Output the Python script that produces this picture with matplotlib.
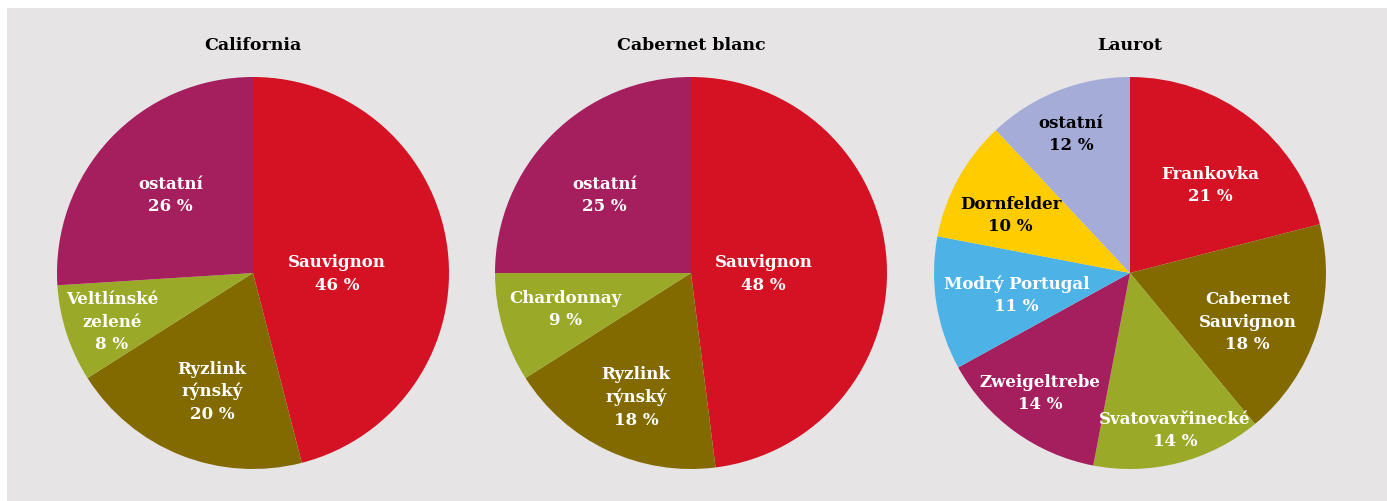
import matplotlib.pyplot as plt
from matplotlib.patches import Rectangle

# data
titles = ["California", "Cabernet blanc", "Laurot"]

cal_labels = ["Sauvignon", "Ryzlink\nrýnský", "Veltlínské\nzelené", "ostatní"]
cal_values = [46, 20, 8, 26]

cab_labels = ["Sauvignon", "Ryzlink\nrýnský", "Chardonnay", "ostatní"]
cab_values = [48, 18, 9, 25]

lau_labels = ["Frankovka", "Cabernet\nSauvignon", "Svatovavřinecké", "Zweigeltrebe",
              "Modrý Portugal", "Dornfelder", "ostatní"]
lau_values = [21, 18, 14, 14, 11, 10, 12]

# colours
RED = "#d51224"
BROWN = "#836a00"
GREEN = "#9aaa28"
MAGENTA = "#a51e5e"
BLUE = "#4db3e6"
YELLOW = "#ffcc00"
LAVENDER = "#a6acd8"
BG = "#e6e4e5"

cal_colors = [RED, BROWN, GREEN, MAGENTA]
cab_colors = [RED, BROWN, GREEN, MAGENTA]
lau_colors = [RED, BROWN, GREEN, MAGENTA, BLUE, YELLOW, LAVENDER]
lau_textcolors = ["white"] * 5 + ["black", "black"]

# label positions (fractions of the radius)
cal_pos = [(0.43, 0.0), (-0.21, -0.60), (-0.72, -0.245), (-0.42, 0.40)]
cab_pos = [(0.37, 0.0), (-0.28, -0.63), (-0.64, -0.18), (-0.44, 0.40)]
lau_pos = [(0.41, 0.45), (0.60, -0.245), (0.23, -0.80), (-0.46, -0.61),
           (-0.58, -0.11), (-0.61, 0.30), (-0.30, 0.71)]

W, H = 1387, 502
fig = plt.figure(figsize=(W / 100, H / 100), dpi=100, facecolor=BG)
# white margin on top and left
fig.patches.append(Rectangle((0, 1 - 9 / H), 1, 9 / H, transform=fig.transFigure,
                             facecolor="white", edgecolor="none", zorder=-10))
fig.patches.append(Rectangle((0, 0), 7 / W, 1, transform=fig.transFigure,
                             facecolor="white", edgecolor="none", zorder=-10))

FONT = "DejaVu Serif"
centers = [253, 691, 1130]
R = 196
pies = [
    (cal_labels, cal_values, cal_colors, ["white"] * 4, cal_pos),
    (cab_labels, cab_values, cab_colors, ["white"] * 4, cab_pos),
    (lau_labels, lau_values, lau_colors, lau_textcolors, lau_pos),
]

for cx, title, (labels, values, colors, tcolors, pos) in zip(centers, titles, pies):
    size = R * 2.04
    ax = fig.add_axes([(cx - size / 2) / W, (H - 274 - size / 2) / H, size / W, size / H])
    ax.patch.set_visible(False)
    ax.pie(values, colors=colors, startangle=90, counterclock=False, radius=1,
           wedgeprops=dict(linewidth=0))
    ax.set_xlim(-1.02, 1.02)
    ax.set_ylim(-1.02, 1.02)
    ax.set_aspect("equal")
    ax.axis("off")
    for lab, v, tc, (x, y) in zip(labels, values, tcolors, pos):
        ax.text(x, y, f"{lab}\n{v} %", ha="center", va="center", color=tc,
                fontsize=12, fontweight="bold", family=FONT, linespacing=1.4)
    fig.text(cx / W, 1 - 46 / H, title, ha="center", va="center",
             fontsize=12.5, fontweight="bold", family=FONT, color="black")

fig.savefig("out.png", dpi=100, facecolor=BG)
